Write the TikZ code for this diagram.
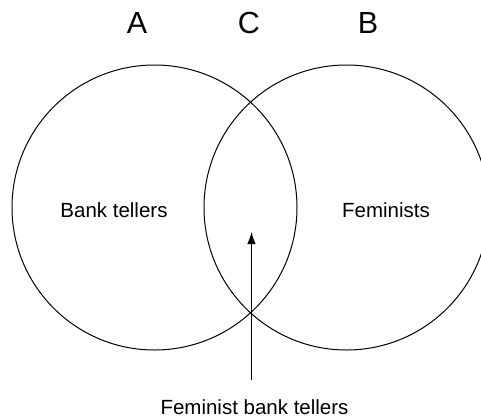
\documentclass[tikz,border=0pt]{standalone}
\usepackage{fontspec}
\setmainfont{Liberation Sans}
\usetikzlibrary{arrows.meta}
\begin{document}
\begin{tikzpicture}[x=1pt,y=-1pt,
  setcircle/.style={draw=black,line width=1pt,circle,minimum size=285pt,inner sep=0pt},
  biglabel/.style={font=\fontsize{30.5}{36}\selectfont,anchor=base,inner sep=0pt},
  setlabel/.style={font=\fontsize{20.5}{24}\selectfont,anchor=base,inner sep=0pt},
  pointer/.style={line width=1pt,-{Latex[length=12pt,width=8.5pt]}}]
\useasboundingbox (0,0) rectangle (481,418);
\node[setcircle] (left) at (154.5,207.5) {};
\node[setcircle] (right) at (346.5,207.5) {};
\node[biglabel] (A) at (137,33) {A};
\node[biglabel] (C) at (249,33) {C};
\node[biglabel] (B) at (368,33) {B};
\node[setlabel] (bt) at (114,217) {Bank tellers};
\node[setlabel] (fem) at (386,217) {Feminists};
\node[setlabel] (fbt) at (254.5,414) {Feminist bank tellers};
\coordinate (tail) at (251.5,380);
\coordinate (tip) at (251.5,232);
\draw[pointer] (tail) -- (tip);
\end{tikzpicture}
\end{document}
